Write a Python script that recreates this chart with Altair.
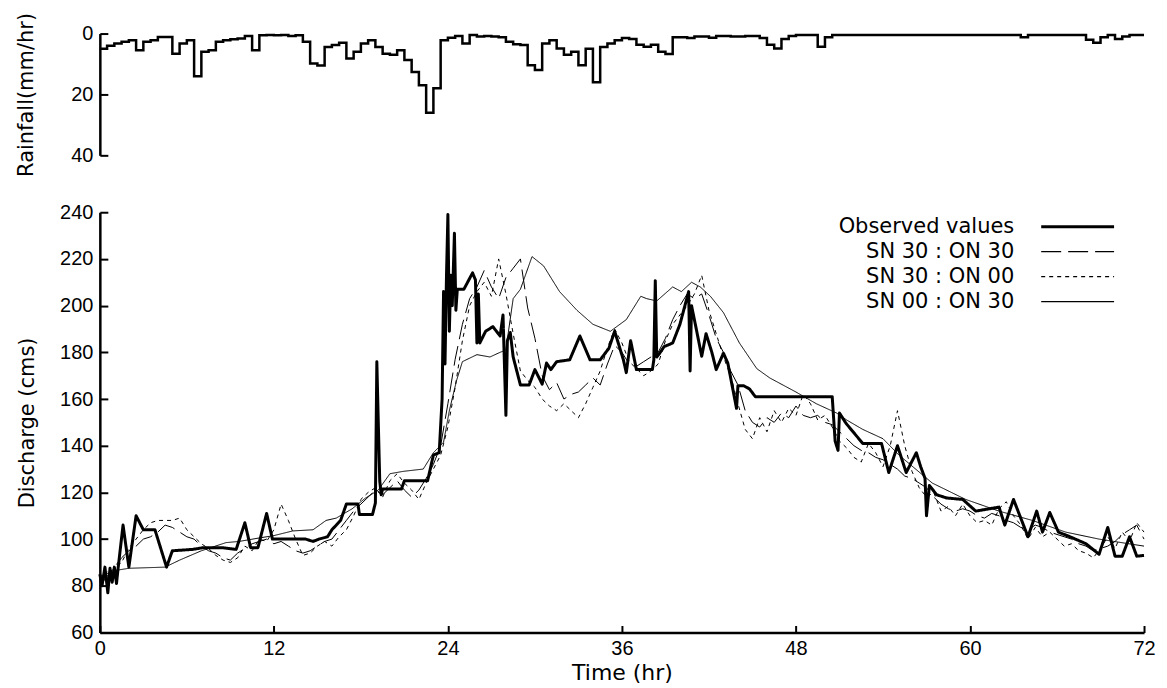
import altair as alt
import pandas as pd

FONT = "Liberation Sans"
TFONT = "DejaVu Sans"

# ---------------- Rainfall (mm/hr), 0.5 h steps from t = 0 to 72 ----------------
rain_time = [0.5 * i for i in range(145)]
rain_mm = [5, 4, 3.3, 2.7, 2.2, 5.5, 2.7, 2.2, 1.1, 1.1,
           6.6, 3.3, 2.2, 14, 6, 5.5, 2.7, 2.2, 1.9, 1.6,
           0.8, 5.5, 0.6, 0.5, 0.6, 0.5, 0.8, 0.6, 2.7, 9.8,
           10.5, 4.4, 3.8, 3.0, 8.2, 6, 3.3, 2.2, 4.4, 6.6,
           7, 5.5, 8.7, 12.6, 17, 26, 18, 2.2, 1.4, 0.8,
           3.3, 0.5, 1.0, 0.8, 1.0, 1.2, 2.7, 3.5, 3.8, 10.4,
           12, 3.3, 2.2, 4.9, 7, 6, 10.4, 5, 16, 4.4,
           3.3, 2.2, 1.5, 1.8, 3.7, 4.3, 3.7, 6, 6.7, 1.2,
           1.2, 1.5, 1.0, 1.0, 1.4, 0.8, 0.8, 1.0, 1.0, 0.8,
           0.8, 1.5, 3.7, 4.9, 1.8, 0.8, 0.5, 0.5, 0.5, 4.3,
           1.2, 0.5, 0.5, 0.5, 0.5, 0.5, 0.5, 0.5, 0.5, 0.5,
           0.5, 0.5, 0.5, 0.5, 0.5, 0.5, 0.5, 0.5, 0.5, 0.5,
           0.5, 0.5, 0.5, 0.5, 0.5, 0.5, 0.5, 1.2, 0.5, 0.5,
           0.5, 0.5, 0.5, 0.5, 0.5, 0.5, 2.0, 3.0, 1.2, 0.5,
           1.8, 1.0, 0.5, 0.5, 0.5]

# ---------------- Observed discharge (cms) ----------------
obs_time = [0.0, 0.15, 0.35, 0.55, 0.7, 0.85, 1.0, 1.15, 1.25, 1.6,
            2.0, 2.5, 3.0, 3.8, 4.6, 5.0, 6.4, 7.1, 8.5, 9.4,
            10.0, 10.4, 10.9, 11.5, 11.9, 13.3, 14.2, 14.7, 15.1, 15.7,
            16.0, 16.6, 17.0, 17.8, 17.9, 18.8, 19.0, 19.1, 19.2, 19.3,
            19.4, 19.5, 20.8, 21.0, 22.6, 23.0, 23.4, 23.6, 23.7, 23.8,
            23.9, 24.0, 24.1, 24.2, 24.3, 24.45, 24.55, 24.65, 25.1, 25.7,
            25.9, 26.0, 26.1, 26.2, 26.6, 27.1, 27.6, 27.8, 28.0, 28.1,
            28.3, 28.5, 29.0, 29.6, 30.0, 30.5, 30.8, 31.1, 31.5, 32.4,
            33.1, 33.8, 34.5, 35.1, 35.5, 36.1, 36.3, 36.6, 37.0, 38.1,
            38.2, 38.3, 38.4, 38.6, 38.9, 39.5, 40.0, 40.6, 40.7, 40.8,
            41.1, 41.5, 41.8, 42.2, 42.5, 43.0, 43.3, 43.9, 44.0, 44.4,
            44.8, 45.2, 50.5, 50.7, 50.9, 51.0, 51.45, 52.6, 53.9, 54.4,
            55.0, 55.6, 56.3, 56.6, 56.9, 57.0, 57.2, 57.7, 58.4, 59.5,
            60.4, 62.0, 62.4, 63.0, 64.0, 64.6, 65.0, 65.5, 66.1, 66.9,
            68.0, 68.9, 69.5, 70.0, 70.5, 71.0, 71.5, 72.0]
obs_q = [85, 80, 88, 77, 87.5, 81.5, 88, 81, 87, 106,
         88, 110, 104, 104, 88, 95, 95.6, 96.3, 96.3, 95.6,
         107, 96.3, 96.3, 111, 100, 100, 100, 99, 100, 101,
         104, 108, 115, 115, 110.5, 110.5, 115.5, 176, 150, 125,
         119, 121.5, 121.5, 125, 125, 136, 137, 160, 206, 175,
         212, 239, 189, 213, 200, 231, 198, 207, 207, 214,
         211, 184, 205, 184, 189, 191, 187, 196, 153, 185,
         188.5, 178, 166, 166, 172.6, 166.4, 175.4, 172.6, 176, 176.8,
         187, 176.8, 176.8, 181.7, 189, 176.8, 171.3, 185, 172.6, 172.6,
         176.8, 210.7, 178, 179.6, 182.4, 184, 192, 206, 172, 200,
         190.8, 178.3, 188, 180, 172.6, 179.6, 175.4, 156, 165.7, 165.7,
         164.3, 161, 161, 142, 138, 154, 149.6, 141, 141, 128.5,
         140, 128.5, 137, 131, 126, 110, 123, 119, 117.6, 117,
         112, 113.7, 106, 117, 101, 112, 103, 111.4, 103, 101,
         98, 93.5, 105, 92.7, 92.7, 101, 92.7, 93]

# ---------------- Simulations, 0.5 h steps ----------------
sim_time = [0.5 * i for i in range(145)]
sn30_on30 = [80, 84, 88, 92, 95, 97, 100, 101, 103, 106,
             105, 103, 101, 100, 97, 95, 94, 92, 91, 94,
             96, 98, 99, 100, 98, 99, 97, 95, 94, 95,
             97, 99, 100, 104, 108, 112, 115, 118, 121, 119,
             122, 125, 121, 118, 121, 126, 132, 140, 158, 177,
             192, 203, 208, 215, 208, 203, 212, 216, 220, 199,
             186, 170, 164, 167, 160, 162, 163, 166, 169, 166,
             175, 183, 180, 175, 174, 176, 178, 180, 186, 194,
             200, 205, 203, 205, 196, 186, 180, 172, 166, 155,
             150, 148, 152, 150, 154, 152, 157, 153, 152, 153,
             150, 149, 146, 143, 140, 138, 137, 135, 134, 132,
             130, 127, 126, 124, 122, 118, 115, 113, 112, 113,
             112, 110, 109, 111, 110, 108, 107, 105, 104, 106,
             105, 103, 102, 101, 100, 98, 97, 95, 96, 97,
             99, 102, 104, 106, 100]
sn30_on00 = [82, 86, 87, 90, 96, 100, 104, 107, 108, 108,
             108, 109, 104, 101, 98, 96, 93, 91, 90, 92,
             97, 95, 100, 99, 104, 115, 108, 100, 93, 94,
             97, 99, 97, 101, 104, 110, 117, 120, 122, 118,
             125, 128, 124, 121, 117, 124, 130, 136, 148, 165,
             185, 200, 206, 210, 204, 220, 205, 188, 172, 168,
             165, 160, 157, 155, 158, 155, 152, 158, 165, 172,
             182, 190, 184, 176, 173, 170, 172, 175, 185, 192,
             196, 200, 205, 213, 198, 188, 178, 170, 158, 147,
             143, 152, 146, 155, 150, 156, 153, 162, 158, 151,
             153, 148, 142, 139, 135, 133, 141, 137, 131, 140,
             155, 140, 129, 122, 118, 120, 112, 114, 110, 115,
             110, 107, 108, 106, 113, 116, 110, 106, 100, 105,
             101, 103, 100, 97, 98, 95, 94, 92, 96, 101,
             96, 103, 99, 107, 103]

sn00_time = [0, 1, 2, 4.5, 5.5, 7, 8.7, 9.6, 11, 12,
             13.3, 14.7, 15.6, 16.3, 17.4, 18.3, 19.2, 20, 20.9, 22.3,
             23, 23.7, 24.1, 24.6, 25, 26, 26.9, 27.6, 28.0, 28.2,
             28.5, 29.0, 29.4, 29.8, 30.6, 31.7, 32.9, 34.0, 35.2, 36.3,
             37.3, 37.7, 38.4, 39.5, 40.1, 40.8, 41.4, 42.1, 43.0, 44.1,
             45.3, 46.2, 47.1, 48.0, 49.4, 50.8, 51.5, 52.6, 54.0, 55.1,
             57.4, 59.7, 62.0, 64.3, 66.6, 68.9, 72]
sn00_on30 = [84, 86.5, 87.5, 88, 91, 95, 98.5, 99, 100.5, 101.5,
             103.5, 104, 108, 109, 113, 117.5, 121, 128, 129, 130,
             137, 141.5, 155, 168, 176, 179, 178, 180, 181, 190,
             203, 207, 214, 221, 217, 206, 198, 192, 189, 194,
             204, 203, 202, 208, 206, 210, 208, 204, 197, 184,
             173, 169, 166, 163, 158, 154, 151, 147, 143, 136,
             124, 117, 112, 108, 103, 100, 97]

series_names = ["Observed values", "SN 30 : ON 30", "SN 30 : ON 00", "SN 00 : ON 30"]
dash_styles = [[1, 0], [20, 7], [4, 4], [1, 0]]

frames = [
    pd.DataFrame({"t": obs_time, "q": obs_q, "series": series_names[0]}),
    pd.DataFrame({"t": sim_time, "q": sn30_on30, "series": series_names[1]}),
    pd.DataFrame({"t": sim_time, "q": sn30_on00, "series": series_names[2]}),
    pd.DataFrame({"t": sn00_time, "q": sn00_on30, "series": series_names[3]}),
]
q_df = pd.concat(frames[::-1], ignore_index=True)
rain_df = pd.DataFrame({"t": rain_time, "r": rain_mm})

W = 1046
H_TOP = 122
H_BOT = 421

x_scale = alt.Scale(domain=[0, 72], nice=False, zero=False)

# ---------------- Rainfall panel ----------------
rain_line = alt.Chart(rain_df).mark_line(
    interpolate="step-after", color="black", strokeWidth=2.5
).encode(
    x=alt.X("t:Q", scale=x_scale,
            axis=alt.Axis(orient="top", labels=False, ticks=False, title=None,
                          domainWidth=2.5)),
    y=alt.Y("r:Q", scale=alt.Scale(domain=[0, 40], reverse=True, nice=False),
            axis=alt.Axis(values=[0, 20, 40], ticks=False, tickSize=0, labelPadding=7,
                          labelFlush=False, domainWidth=2.5, title="Rainfall(mm/hr)",
                          titlePadding=34)),
)
rain_ticks = alt.Chart(rain_df).mark_point(opacity=0).encode(
    x=alt.X("t:Q", scale=x_scale, axis=None),
    y=alt.Y("r:Q", scale=alt.Scale(domain=[0, 40], reverse=True, nice=False),
            axis=alt.Axis(orient="right", offset=-W, values=[0, 20, 40], labels=False,
                          domain=False, tickSize=8, tickWidth=2, title=None)),
)
top = alt.layer(rain_line, rain_ticks).resolve_axis(y="independent").properties(
    width=W, height=H_TOP)

# ---------------- Discharge panel ----------------
y_scale = alt.Scale(domain=[60, 240], nice=False, zero=False)
lines = alt.Chart(q_df).mark_line(color="black", strokeJoin="round").encode(
    x=alt.X("t:Q", scale=x_scale,
            axis=alt.Axis(values=[0, 12, 24, 36, 48, 60, 72], ticks=False, tickSize=0,
                          labelPadding=6, labelFlush=False, domainWidth=2.5,
                          title="Time (hr)", titlePadding=4, titleFontSize=22)),
    y=alt.Y("q:Q", scale=y_scale,
            axis=alt.Axis(values=list(range(60, 241, 20)), ticks=False, tickSize=0,
                          labelPadding=7, labelFlush=False, domainWidth=2.5,
                          title="Discharge (cms)", titlePadding=22)),
    strokeDash=alt.StrokeDash(
        "series:N",
        scale=alt.Scale(domain=series_names, range=dash_styles),
        legend=alt.Legend(
            title=None, orient="none", legendX=969, legendY=183,
            symbolType="stroke", symbolSize=5329, symbolStrokeColor="black",
            symbolStrokeWidth={"expr": "datum.value === 'Observed values' ? 3 : 1.2"},
            labelAlign="right", labelOffset={"expr": "-74"},
            labelFontSize=21, labelFont=TFONT, labelColor="black", labelLimit=400,
            rowPadding=3, padding=0,
        ),
    ),
    strokeWidth=alt.when(alt.datum.series == "Observed values")
        .then(alt.value(3)).otherwise(alt.value(1)),
    order=alt.Order("t:Q"),
)
q_ticks = alt.Chart(q_df).mark_point(opacity=0).encode(
    x=alt.X("t:Q", scale=x_scale,
            axis=alt.Axis(orient="top", offset=-H_BOT, values=[0, 12, 24, 36, 48, 60, 72],
                          labels=False, domain=False, tickSize=7, tickWidth=2, title=None)),
    y=alt.Y("q:Q", scale=y_scale,
            axis=alt.Axis(orient="right", offset=-W, values=list(range(60, 241, 20)),
                          labels=False, domain=False, tickSize=8, tickWidth=2, title=None)),
)
bottom = alt.layer(lines, q_ticks).resolve_axis(x="independent", y="independent").properties(
    width=W, height=H_BOT)

chart = alt.vconcat(top, bottom, spacing=57, bounds="flush").properties(
    padding={"left": 7, "top": 3, "right": 3, "bottom": 0}
).configure_view(stroke=None).configure_axis(
    labelFont=FONT, titleFont=TFONT, labelFontSize=20, titleFontSize=21,
    titleFontWeight="normal", labelColor="black", titleColor="black",
    domainColor="black", tickColor="black", grid=False,
)

chart.save("out.html", embed_options={"renderer": "svg", "actions": False})
